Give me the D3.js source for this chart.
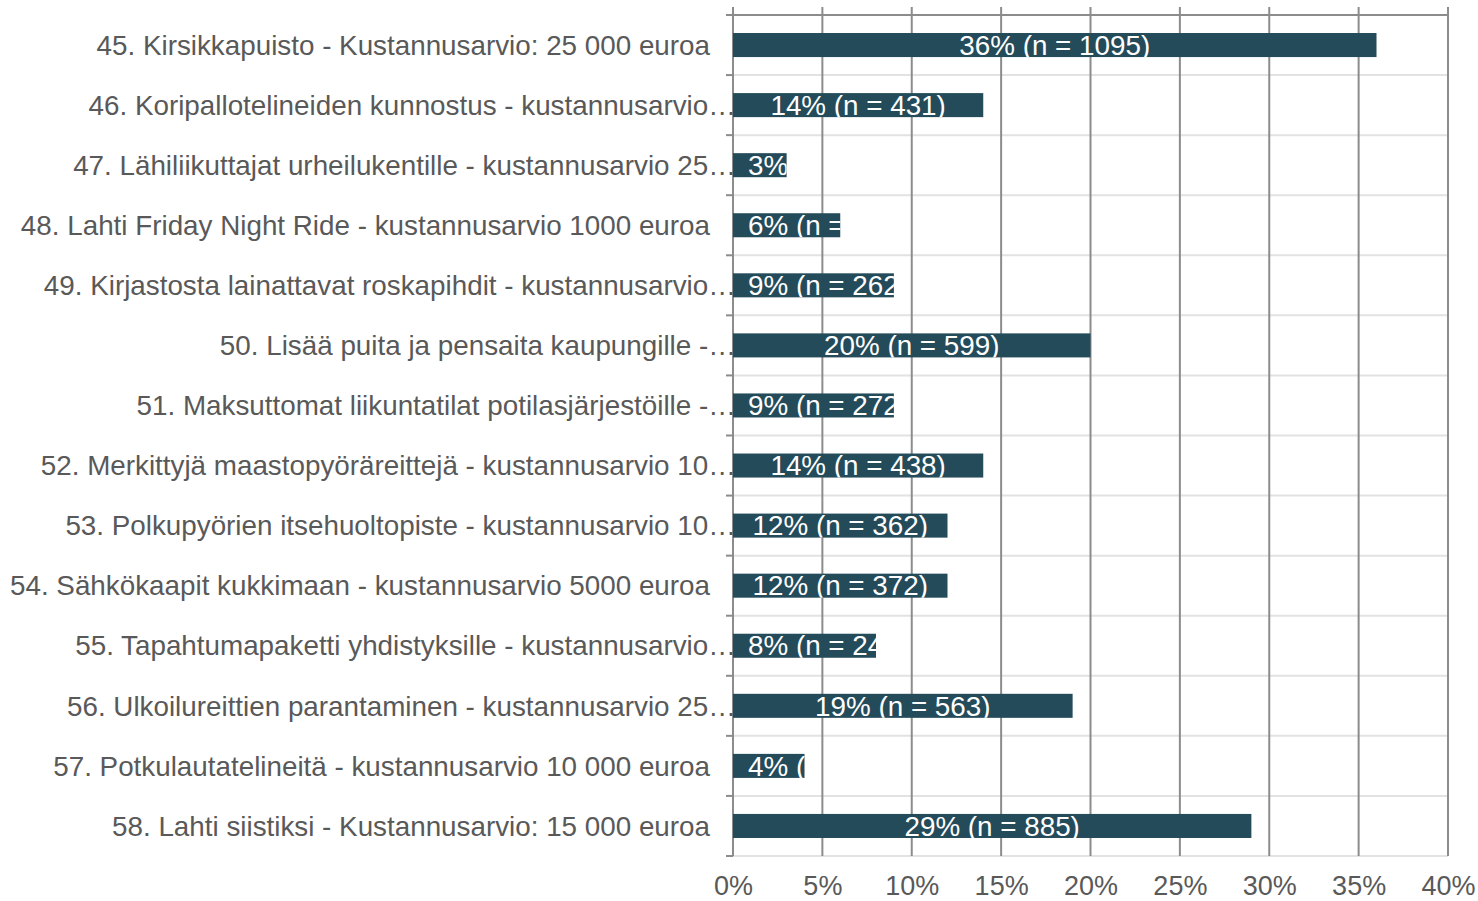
<!DOCTYPE html>
<html>
<head>
<meta charset="utf-8">
<script src="https://cdn.jsdelivr.net/npm/d3@7"></script>
<style>
body { margin: 0; background: #fff; }
svg text { font-family: "Liberation Sans", Arial, sans-serif; }
</style>
</head>
<body>
<div id="chart"></div>
<script>
// project names (long ones are cut with an ellipsis like in the original)
const projects = [
	"45. Kirsikkapuisto - Kustannusarvio: 25 000 euroa",
	"46. Koripallotelineiden kunnostus - kustannusarvio…",
	"47. Lähiliikuttajat urheilukentille - kustannusarvio 25…",
	"48. Lahti Friday Night Ride - kustannusarvio 1000 euroa",
	"49. Kirjastosta lainattavat roskapihdit - kustannusarvio…",
	"50. Lisää puita ja pensaita kaupungille -…",
	"51. Maksuttomat liikuntatilat potilasjärjestöille -…",
	"52. Merkittyjä maastopyöräreittejä - kustannusarvio 10…",
	"53. Polkupyörien itsehuoltopiste - kustannusarvio 10…",
	"54. Sähkökaapit kukkimaan - kustannusarvio 5000 euroa",
	"55. Tapahtumapaketti yhdistyksille - kustannusarvio…",
	"56. Ulkoilureittien parantaminen - kustannusarvio 25…",
	"57. Potkulautatelineitä - kustannusarvio 10 000 euroa",
	"58. Lahti siistiksi - Kustannusarvio: 15 000 euroa"
];
// share of voters (%) and number of voters
const shares = [36, 14, 3, 6, 9, 20, 9, 14, 12, 12, 8, 19, 4, 29];
const counts = [1095, 431, 91, 183, 262, 599, 272, 438, 362, 372, 243, 563, 122, 885];
const xTicks = [0, 5, 10, 15, 20, 25, 30, 35, 40];

const W = 1478, H = 901;
const plot = {left: 733, right: 1448, top: 15, bottom: 856};
const barColor = "#244b5a", textColor = "#595959", gridColor = "#8c8c8c", sepColor = "#e2e2e2";
const fontSize = "27.8px";

const svg = d3.select("#chart").append("svg")
	.attr("width", W).attr("height", H);

const x = d3.scaleLinear().domain([0, 40]).range([plot.left, plot.right]);
const y = d3.scaleBand().domain(projects).range([plot.top, plot.bottom]).padding(0);
const barH = y.bandwidth() * 0.4;

//horizontal separators between the rows
const bounds = d3.range(projects.length + 1).map(i => plot.top + i * y.step());
svg.selectAll(".sep")
	.data(bounds.slice(1))
	.enter().append("line")
	.attr("x1", plot.left).attr("x2", plot.right)
	.attr("y1", d => d).attr("y2", d => d)
	.attr("stroke", sepColor).attr("stroke-width", 2);
// top line is darker
svg.append("line")
	.attr("x1", plot.left).attr("x2", plot.right)
	.attr("y1", plot.top).attr("y2", plot.top)
	.attr("stroke", gridColor).attr("stroke-width", 2);

//vertical grid lines
svg.selectAll(".grid")
	.data(xTicks)
	.enter().append("line")
	.attr("x1", d => x(d)).attr("x2", d => x(d))
	.attr("y1", plot.top - 8).attr("y2", plot.bottom)
	.attr("stroke", gridColor).attr("stroke-width", 2);

//left ticks
svg.selectAll(".ytick")
	.data(bounds)
	.enter().append("line")
	.attr("x1", plot.left - 7).attr("x2", plot.left)
	.attr("y1", d => d).attr("y2", d => d)
	.attr("stroke", gridColor).attr("stroke-width", 2);

//x tick labels (a bit higher so they stay inside the page)
svg.append("g")
	.attr("transform", "translate(0," + (plot.bottom + 30) + ")")
	.call(d3.axisBottom(x).tickValues(xTicks).tickSize(0).tickFormat(d => d + "%"))
	.call(g => g.select(".domain").remove())
	.selectAll("text")
	.attr("y", 0).attr("dy", "0.35em")
	.attr("fill", textColor)
	.style("font-size", "27px")
	.style("font-family", "'Liberation Sans', Arial, sans-serif");

//category labels
svg.selectAll(".cat")
	.data(projects)
	.enter().append("text")
	.attr("x", d => d.endsWith("…") ? plot.left + 3 : 710)
	.attr("y", d => y(d) + y.bandwidth() / 2)
	.attr("dy", "0.35em")
	.attr("text-anchor", "end")
	.attr("fill", textColor)
	.style("font-size", fontSize)
	.text(d => d);

//bars
const rows = projects.map((p, i) => ({name: p, share: shares[i], n: counts[i], i: i}));
const defs = svg.append("defs");
defs.selectAll("clipPath")
	.data(rows)
	.enter().append("clipPath")
	.attr("id", d => "clip" + d.i)
	.append("rect")
	.attr("x", x(0))
	.attr("y", d => y(d.name) + (y.bandwidth() - barH) / 2)
	.attr("width", d => x(d.share) - x(0))
	.attr("height", barH);

svg.selectAll(".bar")
	.data(rows)
	.enter().append("rect")
	.attr("x", x(0))
	.attr("y", d => y(d.name) + (y.bandwidth() - barH) / 2)
	.attr("width", d => x(d.share) - x(0))
	.attr("height", barH)
	.attr("fill", barColor);

//labels inside bars, cut off at the bar end
svg.selectAll(".barlabel")
	.data(rows)
	.enter().append("text")
	.attr("clip-path", d => "url(#clip" + d.i + ")")
	.attr("y", d => y(d.name) + y.bandwidth() / 2)
	.attr("dy", "0.35em")
	.attr("fill", "#fff")
	.style("font-size", fontSize)
	.text(d => d.share + "% (n = " + d.n + ")")
	.each(function(d) {
		const tw = this.getComputedTextLength();
		const mid = (x(0) + x(d.share)) / 2;
		d3.select(this).attr("x", Math.max(x(0) + 15, mid - tw / 2));
	});
</script>
</body>
</html>
